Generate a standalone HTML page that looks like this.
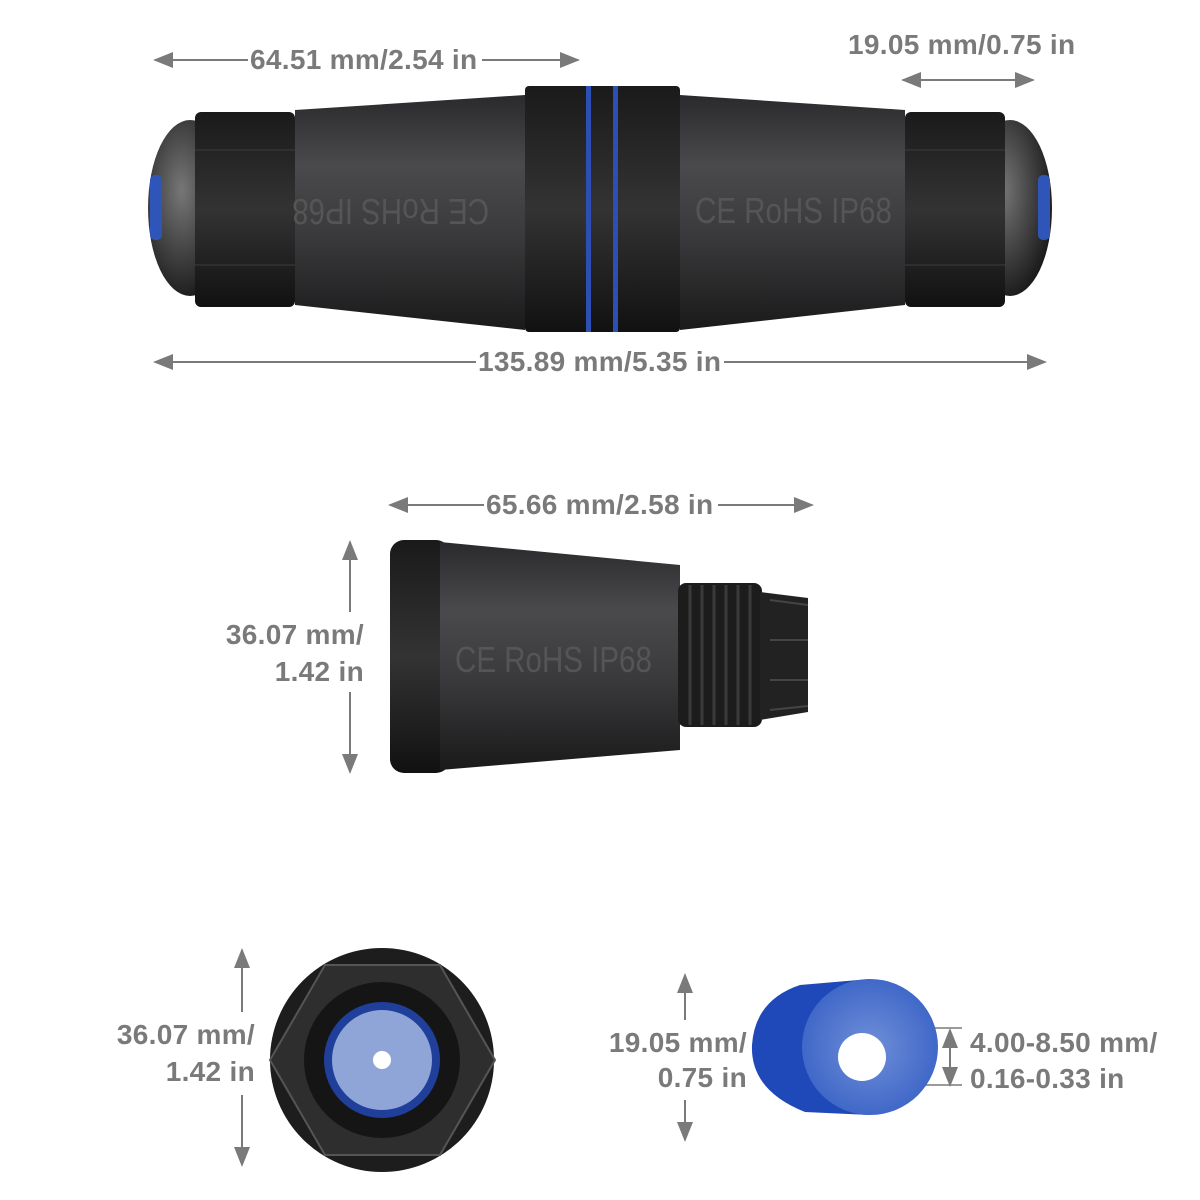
<!DOCTYPE html>
<html><head><meta charset="utf-8"><style>
html,body{margin:0;padding:0;background:#fff;}
body{width:1200px;height:1200px;position:relative;overflow:hidden;font-family:"Liberation Sans",sans-serif;}
.t{position:absolute;color:#7a7a7a;font-size:28px;font-weight:bold;white-space:nowrap;line-height:1;letter-spacing:0.3px;}
.m{position:absolute;color:#555;font-size:36px;white-space:nowrap;line-height:1;transform:scaleX(0.82);transform-origin:left center;}
svg{position:absolute;left:0;top:0;}
</style></head><body>
<svg width="1200" height="1200" viewBox="0 0 1200 1200">
<defs>
<linearGradient id="bd" x1="0" y1="0" x2="0" y2="1">
<stop offset="0" stop-color="#2a2a2c"/><stop offset="0.3" stop-color="#4a4a4d"/><stop offset="0.6" stop-color="#3a3a3c"/><stop offset="1" stop-color="#1a1a1b"/></linearGradient>
<linearGradient id="nt" x1="0" y1="0" x2="0" y2="1">
<stop offset="0" stop-color="#1a1a1a"/><stop offset="0.5" stop-color="#333"/><stop offset="1" stop-color="#111"/></linearGradient>
<radialGradient id="cap" cx="0.4" cy="0.4" r="0.7"><stop offset="0" stop-color="#777"/><stop offset="1" stop-color="#111"/></radialGradient>
<radialGradient id="blu" cx="0.5" cy="0.5" r="0.5"><stop offset="0" stop-color="#6f8fd8"/><stop offset="1" stop-color="#4068c8"/></radialGradient>
<marker id="a" markerWidth="10" markerHeight="10" refX="9" refY="5" orient="auto-start-reverse"><path d="M0,1 L10,5 L0,9 z" fill="#7a7a7a"/></marker>
</defs>
<g stroke="#7a7a7a" stroke-width="2" fill="none">
<line x1="155" y1="60" x2="248" y2="60" marker-start="url(#a)"/><line x1="482" y1="60" x2="578" y2="60" marker-end="url(#a)"/>
<line x1="903" y1="80" x2="1033" y2="80" marker-start="url(#a)" marker-end="url(#a)"/>
<line x1="155" y1="362" x2="476" y2="362" marker-start="url(#a)"/><line x1="724" y1="362" x2="1045" y2="362" marker-end="url(#a)"/>
<line x1="390" y1="505" x2="484" y2="505" marker-start="url(#a)"/><line x1="718" y1="505" x2="812" y2="505" marker-end="url(#a)"/>
<line x1="350" y1="542" x2="350" y2="612" marker-start="url(#a)"/><line x1="350" y1="692" x2="350" y2="772" marker-end="url(#a)"/>
<line x1="242" y1="950" x2="242" y2="1012" marker-start="url(#a)"/><line x1="242" y1="1095" x2="242" y2="1165" marker-end="url(#a)"/>
<line x1="685" y1="975" x2="685" y2="1020" marker-start="url(#a)"/><line x1="685" y1="1100" x2="685" y2="1140" marker-end="url(#a)"/>
<line x1="950" y1="1030" x2="950" y2="1085" marker-start="url(#a)" marker-end="url(#a)"/>
<line x1="880" y1="1028" x2="962" y2="1028" stroke-width="1.5"/><line x1="880" y1="1085" x2="962" y2="1085" stroke-width="1.5"/>
</g>
<!-- top connector -->
<ellipse cx="190" cy="208" rx="42" ry="88" fill="url(#cap)"/>
<ellipse cx="1010" cy="208" rx="42" ry="88" fill="url(#cap)"/>
<rect x="150" y="175" width="12" height="65" rx="5" fill="#2f55b8"/>
<rect x="1038" y="175" width="12" height="65" rx="5" fill="#2f55b8"/>
<rect x="195" y="112" width="100" height="195" rx="6" fill="url(#nt)"/>
<rect x="905" y="112" width="100" height="195" rx="6" fill="url(#nt)"/>
<g stroke="#3c3c3c" stroke-width="1">
<line x1="195" y1="150" x2="295" y2="150"/><line x1="195" y1="265" x2="295" y2="265"/>
<line x1="905" y1="150" x2="1005" y2="150"/><line x1="905" y1="265" x2="1005" y2="265"/></g>
<path d="M295,110 L525,95 L525,330 L295,305 Z" fill="url(#bd)"/>
<path d="M680,95 L905,110 L905,305 L680,330 Z" fill="url(#bd)"/>
<rect x="525" y="86" width="155" height="246" rx="4" fill="url(#nt)"/>
<rect x="586" y="86" width="5" height="246" fill="#2c4fb5"/>
<rect x="613" y="86" width="5" height="246" fill="#2c4fb5"/>
<!-- middle -->
<rect x="390" y="540" width="60" height="233" rx="14" fill="url(#nt)"/>
<path d="M440,542 L680,565 L680,750 L440,770 Z" fill="url(#bd)"/>
<rect x="678" y="583" width="84" height="144" rx="8" fill="#1c1c1c"/>
<g stroke="#3a3a3a" stroke-width="3">
<line x1="690" y1="585" x2="690" y2="725"/><line x1="702" y1="585" x2="702" y2="725"/><line x1="714" y1="585" x2="714" y2="725"/><line x1="726" y1="585" x2="726" y2="725"/><line x1="738" y1="585" x2="738" y2="725"/><line x1="750" y1="585" x2="750" y2="725"/></g>
<path d="M760,592 L808,598 L808,712 L760,720 Z" fill="#222"/>
<g stroke="#444" stroke-width="2"><line x1="770" y1="600" x2="808" y2="605"/><line x1="770" y1="640" x2="808" y2="640"/><line x1="770" y1="680" x2="808" y2="680"/><line x1="770" y1="710" x2="808" y2="706"/></g>
<!-- bottom left -->
<circle cx="382" cy="1060" r="112" fill="#1d1d1d"/>
<polygon points="325,965 440,965 495,1060 440,1155 325,1155 270,1060" fill="#2e2e2e" stroke="#555" stroke-width="2"/>
<circle cx="382" cy="1060" r="78" fill="#151515"/>
<circle cx="382" cy="1060" r="58" fill="#1f3f9a"/>
<circle cx="382" cy="1060" r="50" fill="#8fa5d8"/>
<circle cx="382" cy="1060" r="9" fill="#fff"/>
<!-- bottom right -->
<path d="M800,985 L870,979 L870,1115 L805,1112 Q750,1090 752,1045 Q755,1000 800,985 Z" fill="#1f49b8"/>
<circle cx="870" cy="1047" r="68" fill="url(#blu)"/>
<circle cx="862" cy="1057" r="24" fill="#fff"/>
</svg>
<div class="t" style="left:250px;top:46px">64.51 mm/2.54 in</div>
<div class="t" style="left:848px;top:31px">19.05 mm/0.75 in</div>
<div class="t" style="left:478px;top:348px">135.89 mm/5.35 in</div>
<div class="t" style="left:486px;top:491px">65.66 mm/2.58 in</div>
<div class="t" style="right:836px;top:621px;text-align:right">36.07 mm/</div>
<div class="t" style="right:836px;top:658px;text-align:right">1.42 in</div>
<div class="t" style="right:945px;top:1021px;text-align:right">36.07 mm/</div>
<div class="t" style="right:945px;top:1058px;text-align:right">1.42 in</div>
<div class="t" style="right:453px;top:1029px;text-align:right">19.05 mm/</div>
<div class="t" style="right:453px;top:1064px;text-align:right">0.75 in</div>
<div class="t" style="left:970px;top:1029px">4.00-8.50 mm/</div>
<div class="t" style="left:970px;top:1065px">0.16-0.33 in</div>
<div class="m" style="left:695px;top:193px">CE RoHS IP68</div>
<div class="m" style="left:298px;top:193px;transform:scaleX(0.82) rotate(180deg);transform-origin:105px 18px">CE RoHS IP68</div>
<div class="m" style="left:455px;top:642px">CE RoHS IP68</div>
</body></html>
